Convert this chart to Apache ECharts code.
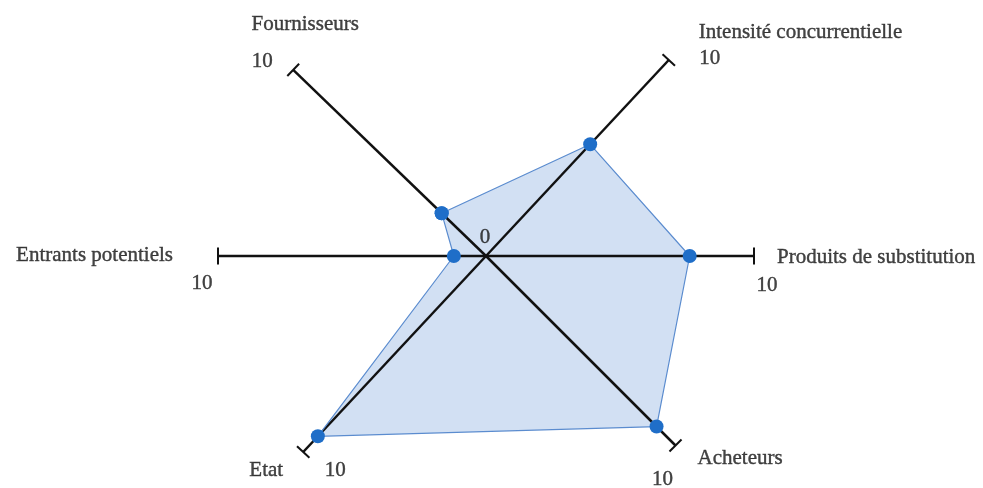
<!DOCTYPE html>
<html>
<head>
<meta charset="utf-8">
<script src="https://cdn.jsdelivr.net/npm/echarts@6/dist/echarts.min.js"></script>
<style>
  html, body { margin: 0; padding: 0; background: #fff; }
  #chart { width: 983px; height: 488px; }
</style>
</head>
<body>
<div id="chart"></div>
<script>
// forces de Porter, scores 0..10
const axisNames = ["Fournisseurs", "Intensité concurrentielle", "Produits de substitution", "Acheteurs", "Etat", "Entrants potentiels"];
const axisAngles = [136, 47, 0, 315, 227, 180];
const scores = [2.3, 5.7, 7.6, 9.0, 9.2, 1.2];
const axisMax = 10;
const maxLabel = "10";
const originLabel = "0";

// label placement around each axis end (px)
const nameLayout = [
  { offset: [12, -45], align: "center" },
  { offset: [30, -28], align: "left" },
  { offset: [23, 1], align: "left" },
  { offset: [22, 13], align: "left" },
  { offset: [-37, 18], align: "center" },
  { offset: [-45, -1], align: "right" },
];
const tenLayout = [[-31, -8], [41, -2], [13, 29], [-13, 34], [32, 18], [-16, 27]];

const textStyle = {
  fontFamily: "Liberation Serif",
  fontSize: 21,
  color: "#151515",
  textBorderColor: "#151515",
  textBorderWidth: 0.4,
};

const chart = echarts.init(document.getElementById("chart"));

const polygon = scores.map((s, i) => [s, axisAngles[i]]);
polygon.push(polygon[0]);

// end caps: vertical rect turned with the axis so it stays perpendicular
const axisSeries = axisAngles.map((a) => ({
  type: "line",
  coordinateSystem: "polar",
  clip: false,
  z: 2,
  silent: true,
  lineStyle: { color: "#111", width: 2.5 },
  itemStyle: { color: "#111" },
  data: [
    { value: [0, a], symbol: "none" },
    { value: [axisMax, a], symbol: "rect", symbolSize: [2, 17], symbolRotate: a },
  ],
}));

const option = {
  animation: false,
  polar: { center: [486, 256], radius: 268 },
  angleAxis: { type: "value", min: 0, max: 360, startAngle: 0, clockwise: false, show: false },
  radiusAxis: { type: "value", min: 0, max: axisMax, show: false },
  series: [
    {
      // fill
      type: "line",
      coordinateSystem: "polar",
      clip: false,
      z: 1,
      symbol: "none",
      lineStyle: { width: 0 },
      areaStyle: { color: "#d2e0f3", opacity: 1 },
      data: polygon,
    },
    ...axisSeries,
    {
      // outline + points
      type: "line",
      coordinateSystem: "polar",
      clip: false,
      z: 3,
      symbol: "circle",
      symbolSize: 14,
      lineStyle: { color: "#5b8ccf", width: 1.2 },
      itemStyle: { color: "#1f6ec8" },
      data: polygon,
    },
    {
      type: "scatter",
      coordinateSystem: "polar",
      clip: false,
      z: 4,
      symbolSize: 1,
      itemStyle: { color: "transparent" },
      data: axisAngles.map((a, i) => ({
        value: [axisMax, a],
        label: {
          show: true,
          position: "inside",
          formatter: axisNames[i],
          offset: nameLayout[i].offset,
          align: nameLayout[i].align,
          ...textStyle,
        },
      })),
    },
    {
      type: "scatter",
      coordinateSystem: "polar",
      clip: false,
      z: 4,
      symbolSize: 1,
      itemStyle: { color: "transparent" },
      data: axisAngles.map((a, i) => ({
        value: [axisMax, a],
        label: { show: true, position: "inside", formatter: maxLabel, offset: tenLayout[i], ...textStyle },
      })).concat([{
        value: [0, 90],
        label: { show: true, position: "inside", formatter: originLabel, offset: [-1, -19], ...textStyle },
      }]),
    },
  ],
};

chart.setOption(option);
</script>
</body>
</html>
